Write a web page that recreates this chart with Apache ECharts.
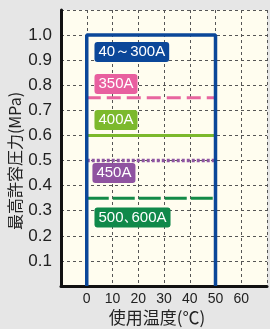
<!DOCTYPE html>
<html>
<head>
<meta charset="utf-8">
<style>
  html, body { margin: 0; padding: 0; background: #e6e6e6; }
  #chart { width: 270px; height: 329px; }
</style>
<script src="https://cdn.jsdelivr.net/npm/echarts@6/dist/echarts.min.js"></script>
</head>
<body>
<div id="chart"></div>
<script>
// 温度範囲と圧力
var tempRange = [0, 50];
var maxPressure = 1.0;
var lineNames = ['350A', '400A', '450A', '500､600A'];
var linePressure = [0.75, 0.6, 0.5, 0.35];
var lineColors = ['#e8659f', '#7cb92d', '#8f55a3', '#138a47'];
var lineTypes = [[14, 6], 'solid', [3, 2], [22, 4]];
// ラベル（名称, x, y, 色）
var tagNames = ['40～300A', '350A', '400A', '450A', '500､600A'];
var tagX = [3, 3, 3, 2.2, 3];
var tagY = [0.933, 0.805, 0.662, 0.45, 0.273];
var tagColors = ['#0b4799', '#e8609f', '#7cb92d', '#8f53a0', '#10894a'];

var labelFont = 'Liberation Sans Narrow, Arial Narrow, Liberation Sans, sans-serif';
var myChart = echarts.init(document.getElementById('chart'));

var series = [];
// 青い枠
series.push({
  type: 'line',
  data: [[tempRange[0], 0], [tempRange[0], maxPressure], [tempRange[1], maxPressure], [tempRange[1], 0]],
  symbol: 'none',
  lineStyle: { color: '#0b4799', width: 3.5 },
  z: 5
});
lineNames.forEach(function (n, i) {
  series.push({
    type: 'line',
    name: n,
    data: [[tempRange[0], linePressure[i]], [tempRange[1], linePressure[i]]],
    symbol: 'none',
    lineStyle: { color: lineColors[i], width: i == 2 ? 3.5 : 3, type: lineTypes[i] },
    z: 4
  });
});
// ラベル
series.push({
  type: 'scatter',
  symbolSize: 0,
  itemStyle: { opacity: 1 },
  emphasis: { disabled: true },
  data: tagNames.map(function (n, i) {
    return { value: [tagX[i], tagY[i]], name: n, label: { backgroundColor: tagColors[i] } };
  }),
  label: {
    show: true,
    position: 'right',
    distance: 0,
    opacity: 1,
    formatter: '{b}',
    color: '#fff',
    textBorderWidth: 0,
    borderWidth: 0,
    fontSize: 15,
    fontFamily: labelFont,
    padding: [3, 4, 2, 4],
    borderRadius: 3
  },
  z: 10
});

var option = {
  backgroundColor: '#e6e6e6',
  animation: false,
  grid: {
    left: 61, top: 10, right: -2, bottom: 43,
    show: true, backgroundColor: '#fffdef', borderWidth: 0
  },
  xAxis: {
    type: 'value', min: -10, max: 70, interval: 10,
    axisLine: { show: true, onZero: false, lineStyle: { color: '#111', width: 3 } },
    axisTick: { show: false },
    axisLabel: {
      color: '#222', fontSize: 14, margin: 6,
      fontFamily: labelFont,
      formatter: function (v) { return (v < 0 || v > 60) ? '' : v; }
    },
    splitLine: { show: true, lineStyle: { color: '#555', type: [3, 3], width: 1 } }
  },
  yAxis: {
    type: 'value', min: 0, max: 1.1, interval: 0.1,
    axisLine: { show: true, onZero: false, lineStyle: { color: '#111', width: 3 } },
    axisTick: { show: false },
    axisLabel: {
      color: '#222', fontSize: 17, margin: 9,
      fontFamily: labelFont,
      formatter: function (v) { return (v < 0.05 || v > 1.05) ? '' : v.toFixed(1); }
    },
    splitLine: { show: true, lineStyle: { color: '#555', type: [3, 3], width: 1 } }
  },
  graphic: [
    {
      type: 'text', x: 157, y: 318,
      style: { text: '使用温度(℃)', fontSize: 17, fill: '#222', align: 'center', verticalAlign: 'middle',
        fontFamily: 'Noto Sans CJK JP, sans-serif' }
    },
    {
      type: 'text', x: 15, y: 161, rotation: Math.PI / 2,
      style: { text: '最高許容圧力(MPa)', fontSize: 16, fill: '#222', align: 'center', verticalAlign: 'middle',
        fontFamily: 'Noto Sans CJK JP, sans-serif' }
    }
  ],
  series: series
};
myChart.setOption(option);
</script>
</body>
</html>
